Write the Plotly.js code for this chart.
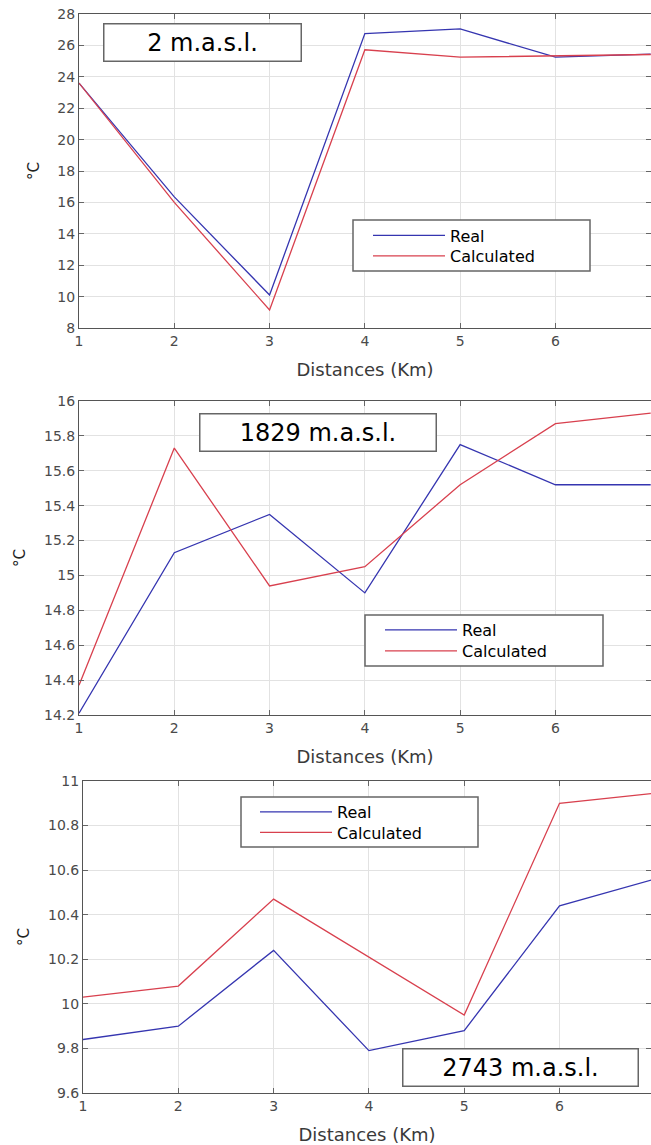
<!DOCTYPE html>
<html>
<head>
<meta charset="utf-8">
<script src="https://cdn.plot.ly/plotly-3.0.1.min.js"></script>
<style>html,body{margin:0;padding:0;background:#fff;}#chart{width:651px;height:1145px;}</style>
</head>
<body>
<div id="chart"></div>
<script>
// Distances (Km)
const distances = [1, 2, 3, 4, 5, 6, 7];

// 2 m.a.s.l.
const real2 = [23.6, 16.35, 10.1, 26.75, 27.05, 25.25, 25.45];
const calc2 = [23.6, 16.0, 9.15, 25.72, 25.25, 25.35, 25.42];

// 1829 m.a.s.l.
const real1829 = [14.21, 15.13, 15.35, 14.9, 15.75, 15.52, 15.52];
const calc1829 = [14.37, 15.73, 14.94, 15.05, 15.52, 15.87, 15.93];

// 2743 m.a.s.l.
const real2743 = [9.84, 9.9, 10.24, 9.79, 9.88, 10.44, 10.56];
const calc2743 = [10.03, 10.08, 10.47, 10.21, 9.95, 10.9, 10.945];

const panelLabels = ["2 m.a.s.l.", "1829 m.a.s.l.", "2743 m.a.s.l."];
const seriesNames = ["Real", "Calculated"];
const xTitle = "Distances (Km)";
const yTitle = "°C";

const W = 651, H = 1145;
const BLUE = '#3535b0', RED = '#d8404e';
const FONT = 'DejaVu Sans, Liberation Sans, Arial, sans-serif';

function px(x) { return x / W; }
function py(y) { return 1 - y / H; }

// legend row centres (px) and line start x for each panel
const legendRows = [[235.5, 256], [630, 651], [812, 832.5]];
const legendLeft = [368, 380, 255];

const traces = [];
const sets = [[real2, calc2], [real1829, calc1829], [real2743, calc2743]];
const colors = [BLUE, RED];
let legendCount = 0;
const legendDefs = {};
sets.forEach((s, i) => {
  const ax = i === 0 ? '' : String(i + 1);
  s.forEach((vals, j) => {
    legendCount++;
    const lid = legendCount === 1 ? 'legend' : 'legend' + legendCount;
    legendDefs[lid] = {x: px(legendLeft[i]), y: py(legendRows[i][j]), xanchor: 'left', yanchor: 'middle',
      bgcolor: 'rgba(0,0,0,0)', borderwidth: 0, itemwidth: 72,
      font: {family: FONT, size: 16, color: '#000'}};
    traces.push({x: distances, y: vals, name: seriesNames[j], type: 'scatter', mode: 'lines',
      line: {color: colors[j], width: 1.3}, xaxis: 'x' + ax, yaxis: 'y' + ax, legend: lid});
  });
});

function xax(left, range, anchor) {
  return {
    domain: [px(left), 1], range: range, anchor: anchor, dtick: 1, tick0: 1,
    showgrid: true, gridcolor: '#e2e2e2', gridwidth: 1,
    showline: true, linecolor: '#555', linewidth: 1, mirror: 'ticks',
    ticks: 'inside', ticklen: 5, tickcolor: '#666', zeroline: false,
    tickfont: {family: FONT, size: 14, color: '#4a4a4a'},
    title: {text: xTitle, font: {family: FONT, size: 18, color: '#3a3a3a'}, standoff: 15}
  };
}
function yax(top, bottom, range, dtick, anchor) {
  return {
    domain: [py(bottom), py(top)], range: range, anchor: anchor, dtick: dtick,
    showgrid: true, gridcolor: '#e2e2e2', gridwidth: 1,
    showline: true, linecolor: '#555', linewidth: 1, mirror: 'ticks',
    ticks: 'inside', ticklen: 5, tickcolor: '#666', zeroline: false,
    tickfont: {family: FONT, size: 14, color: '#4a4a4a'},
    title: {text: yTitle, font: {family: FONT, size: 15, color: '#222'}, standoff: 14}
  };
}

function boxShape(x0, y0, x1, y1) {
  return {type: 'rect', xref: 'paper', yref: 'paper', x0: px(x0), x1: px(x1), y0: py(y1), y1: py(y0),
    line: {color: '#666', width: 1.5}, fillcolor: '#fff', layer: 'above'};
}

function label(text, x0, y0, x1, y1) {
  return {text: text, xref: 'paper', yref: 'paper', x: px((x0 + x1) / 2), y: py((y0 + y1) / 2),
    xanchor: 'center', yanchor: 'middle', showarrow: false,
    width: x1 - x0 - 3, height: y1 - y0 - 3, bgcolor: '#fff', bordercolor: '#666', borderwidth: 1.5, borderpad: 0,
    font: {family: FONT, size: 24, color: '#000'}};
}

const layout = Object.assign({
  width: W, height: H, margin: {l: 0, r: 0, t: 0, b: 0},
  paper_bgcolor: '#fff', plot_bgcolor: '#fff', showlegend: true,
  font: {family: FONT},
  xaxis: xax(79, [1, 7.003], 'y'),
  yaxis: yax(14, 328, [8, 28], 2, 'x'),
  xaxis2: xax(79, [1, 7.003], 'y2'),
  yaxis2: yax(401, 715, [14.2, 16], 0.2, 'x2'),
  xaxis3: xax(83, [1, 6.96], 'y3'),
  yaxis3: yax(781, 1093, [9.6, 11], 0.2, 'x3'),
  shapes: [
    boxShape(353, 220, 590, 271),
    boxShape(365, 615, 603, 666),
    boxShape(241, 797, 478, 847)
  ],
  annotations: [
    label(panelLabels[0], 103, 23, 302, 62),
    label(panelLabels[1], 199, 413, 437, 452),
    label(panelLabels[2], 402, 1048, 639, 1087)
  ]
}, legendDefs);

Plotly.newPlot('chart', traces, layout, {staticPlot: true, displayModeBar: false});
</script>
</body>
</html>
